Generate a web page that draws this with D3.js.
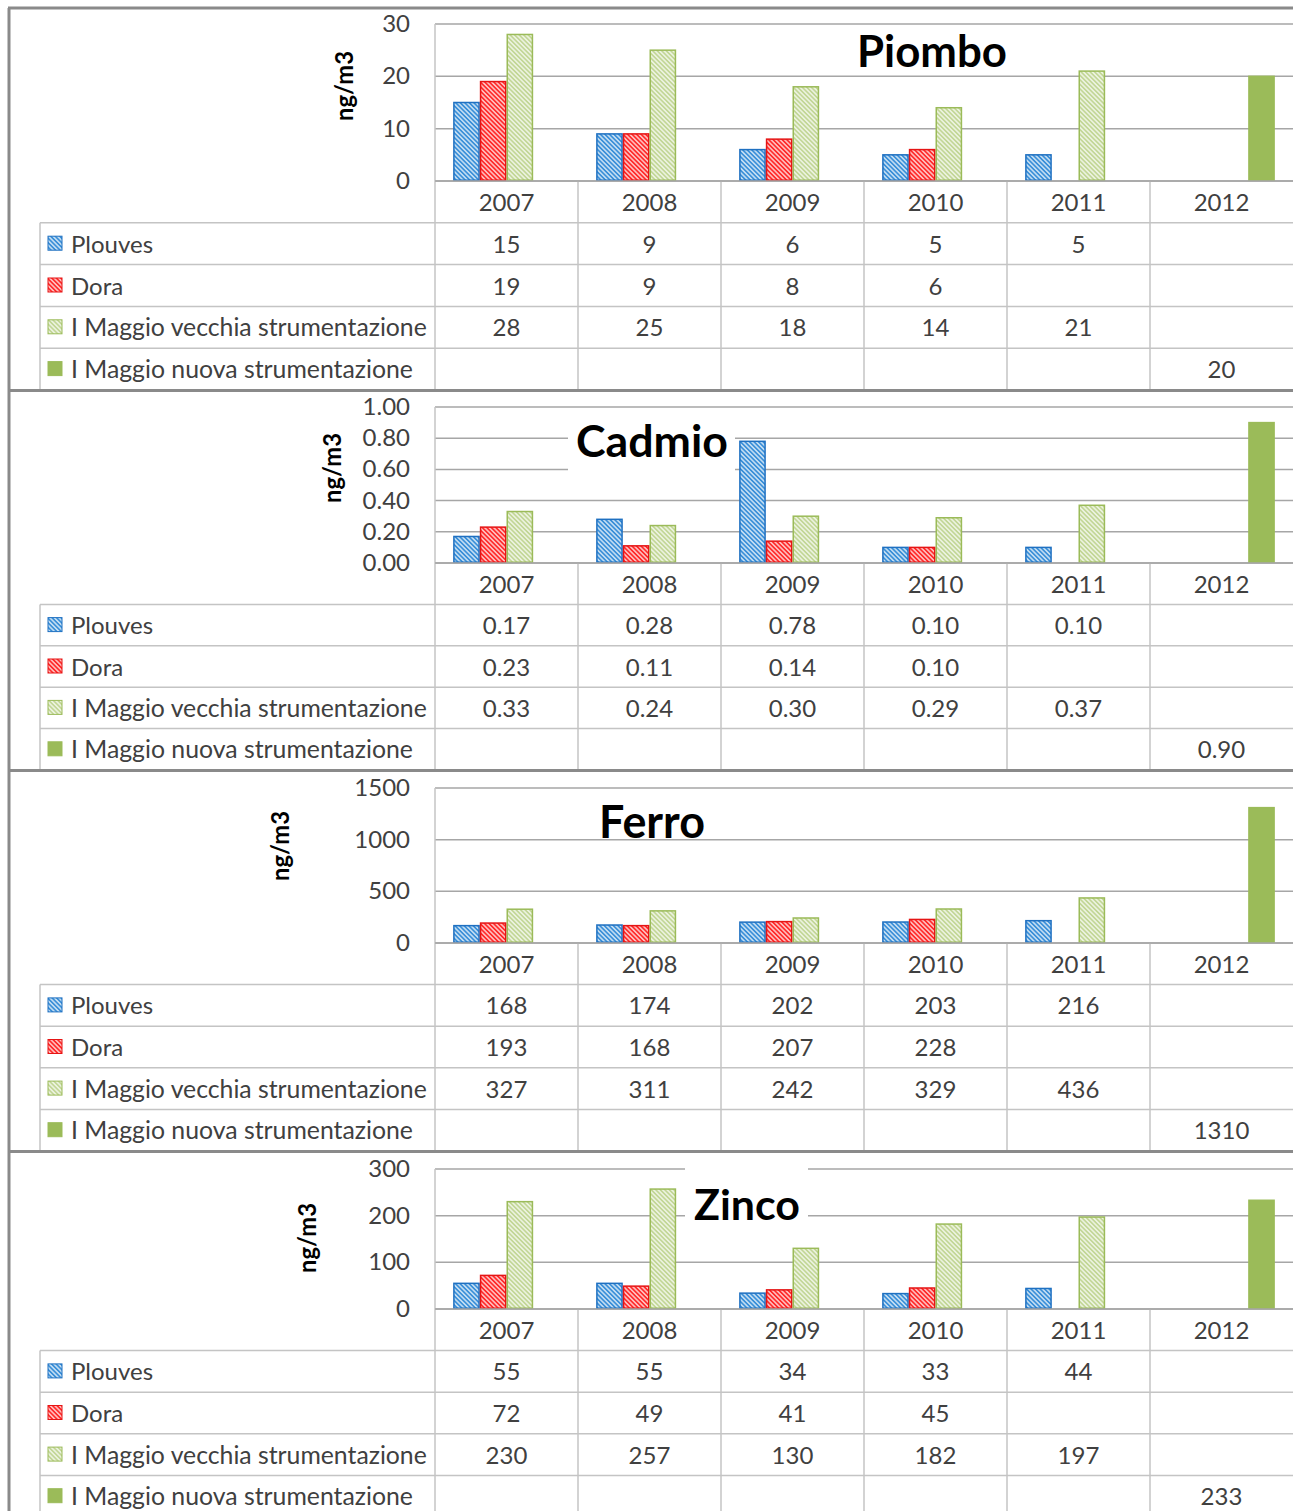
<!DOCTYPE html>
<html>
<head>
<meta charset="utf-8">
<script src="https://cdn.jsdelivr.net/npm/d3@7"></script>
<style>
  body { margin: 0; background: #fff; }
  svg { display: block; font-family: Lato, "Open Sans", sans-serif; }
</style>
</head>
<body>
<svg id="chart" width="1293" height="1511"></svg>
<script>
// categories and series
const years = ["2007", "2008", "2009", "2010", "2011", "2012"];
const seriesNames = ["Plouves", "Dora", "I Maggio vecchia strumentazione", "I Maggio nuova strumentazione"];

// Piombo (ng/m3)
const piomboPlouves = [15, 9, 6, 5, 5, null];
const piomboDora    = [19, 9, 8, 6, null, null];
const piomboVecchia = [28, 25, 18, 14, 21, null];
const piomboNuova   = [null, null, null, null, null, 20];
const piomboTicks   = [0, 10, 20, 30];

// Cadmio
const cadmioPlouves = [0.17, 0.28, 0.78, 0.10, 0.10, null];
const cadmioDora    = [0.23, 0.11, 0.14, 0.10, null, null];
const cadmioVecchia = [0.33, 0.24, 0.30, 0.29, 0.37, null];
const cadmioNuova   = [null, null, null, null, null, 0.90];
const cadmioTicks   = [0, 0.2, 0.4, 0.6, 0.8, 1.0];

// Ferro
const ferroPlouves = [168, 174, 202, 203, 216, null];
const ferroDora    = [193, 168, 207, 228, null, null];
const ferroVecchia = [327, 311, 242, 329, 436, null];
const ferroNuova   = [null, null, null, null, null, 1310];
const ferroTicks   = [0, 500, 1000, 1500];

// Zinco
const zincoPlouves = [55, 55, 34, 33, 44, null];
const zincoDora    = [72, 49, 41, 45, null, null];
const zincoVecchia = [230, 257, 130, 182, 197, null];
const zincoNuova   = [null, null, null, null, null, 233];
const zincoTicks   = [0, 100, 200, 300];

const fills   = ["#3a8fd8", "#ff2a2a", "#c2d696", "#9bbb59"];
const strokes = ["#1f70c1", "#e51515", "#9bbb59", "#9bbb59"];
const hatched = [true, true, true, false];

const panels = [
  { title: "Piombo", series: [piomboPlouves, piomboDora, piomboVecchia, piomboNuova], ticks: piomboTicks,
    fmt: d3.format(".0f"), tickFmt: d3.format(".0f"), top: 8, yTop: 24, y0: 181, bottom: 390,
    titleX: 932, titleY: 67, titleW: 150, box: null, labelX: 345, labelY: 86 },
  { title: "Cadmio", series: [cadmioPlouves, cadmioDora, cadmioVecchia, cadmioNuova], ticks: cadmioTicks,
    fmt: d3.format(".2f"), tickFmt: d3.format(".2f"), top: 391, yTop: 407, y0: 563, bottom: 770,
    titleX: 652, titleY: 457, titleW: 152, box: [568, 416, 167, 56], labelX: 333, labelY: 468 },
  { title: "Ferro", series: [ferroPlouves, ferroDora, ferroVecchia, ferroNuova], ticks: ferroTicks,
    fmt: d3.format(".0f"), tickFmt: d3.format(".0f"), top: 771, yTop: 788, y0: 943, bottom: 1151,
    titleX: 652, titleY: 838, titleW: 106, box: null, labelX: 281, labelY: 846 },
  { title: "Zinco", series: [zincoPlouves, zincoDora, zincoVecchia, zincoNuova], ticks: zincoTicks,
    fmt: d3.format(".0f"), tickFmt: d3.format(".0f"), top: 1152, yTop: 1169, y0: 1309, bottom: 1517,
    titleX: 747, titleY: 1220, titleW: 106, box: [685, 1163, 123, 60], labelX: 308, labelY: 1238 }
];

const W = 1293, plotLeft = 435, plotRight = 1293, tableLeft = 40;
const svg = d3.select("#chart");
const defs = svg.append("defs");

// hatch patterns: base colour with thin white "\" stripes
fills.forEach((c, i) => {
  if (!hatched[i]) return;
  const p = defs.append("pattern")
    .attr("id", "hatch" + i)
    .attr("patternUnits", "userSpaceOnUse")
    .attr("width", 3.2).attr("height", 3.2)
    .attr("patternTransform", "rotate(-45)");
  p.append("rect").attr("width", 3.2).attr("height", 3.2).attr("fill", c);
  p.append("line").attr("x1", 1.6).attr("y1", 0).attr("x2", 1.6).attr("y2", 3.2)
    .attr("stroke", "#fff").attr("stroke-width", 1.1);
});
const fillOf = i => hatched[i] ? "url(#hatch" + i + ")" : fills[i];

const x = d3.scaleBand().domain(years).range([plotLeft, plotRight]);
const xs = d3.scaleBand().domain(d3.range(4)).range([0, x.bandwidth()])
  .paddingInner(0).paddingOuter(0.68);

function fitWidth(sel, target) {
  const w = sel.node().getComputedTextLength();
  const fs = parseFloat(sel.attr("font-size"));
  sel.attr("font-size", fs * target / w);
}

panels.forEach(p => {
  const g = svg.append("g");
  const y = d3.scaleLinear().domain([p.ticks[0], p.ticks[p.ticks.length - 1]]).range([p.y0, p.yTop]);
  const rowH = (p.bottom - p.y0) / 5;

  // gridlines
  g.append("g").selectAll("line").data(p.ticks).join("line")
    .attr("x1", plotLeft).attr("x2", plotRight)
    .attr("y1", d => y(d)).attr("y2", d => y(d))
    .attr("stroke", "#a6a6a6").attr("stroke-width", 1.5);

  // tick labels
  g.append("g").selectAll("text").data(p.ticks).join("text")
    .attr("x", 410).attr("y", d => y(d) + 8)
    .attr("text-anchor", "end").attr("font-size", 24).attr("fill", "#404040")
    .text(d => p.tickFmt(d));

  // title (with white box where it cuts gridlines)
  if (p.box) {
    g.append("rect").attr("x", p.box[0]).attr("y", p.box[1])
      .attr("width", p.box[2]).attr("height", p.box[3]).attr("fill", "#fff");
  }
  const t = g.append("text").attr("x", p.titleX).attr("y", p.titleY)
    .attr("text-anchor", "middle").attr("font-weight", "bold")
    .attr("font-size", 42).attr("fill", "#000").text(p.title);
  fitWidth(t, p.titleW);

  // y axis label
  const yl = g.append("text")
    .attr("transform", `translate(${p.labelX + 8},${p.labelY}) rotate(-90)`)
    .attr("text-anchor", "middle").attr("font-weight", "bold")
    .attr("font-size", 22).attr("fill", "#000").text("ng/m3");
  fitWidth(yl, 70);

  // bars
  p.series.forEach((vals, si) => {
    g.append("g").selectAll("rect")
      .data(years.map((yr, k) => ({ yr, v: vals[k] })).filter(d => d.v != null))
      .join("rect")
      .attr("x", d => x(d.yr) + xs(si) + 0.75)
      .attr("width", xs.bandwidth() - 1.5)
      .attr("y", d => y(d.v))
      .attr("height", d => y(0) - y(d.v) - 0.75)
      .attr("fill", fillOf(si))
      .attr("stroke", strokes[si]).attr("stroke-width", 1.5);
  });

  // data table lines
  const tl = g.append("g").attr("stroke", "#c4c4c4").attr("stroke-width", 1.5);
  d3.range(1, 5).forEach(r => {
    tl.append("line").attr("x1", tableLeft).attr("x2", W)
      .attr("y1", p.y0 + r * rowH).attr("y2", p.y0 + r * rowH);
  });
  tl.append("line").attr("x1", tableLeft).attr("x2", tableLeft)
    .attr("y1", p.y0 + rowH).attr("y2", p.bottom);
  tl.append("line").attr("x1", plotLeft).attr("x2", plotLeft)
    .attr("y1", p.yTop).attr("y2", p.bottom);
  years.slice(1).forEach(yr => {
    tl.append("line").attr("x1", x(yr)).attr("x2", x(yr))
      .attr("y1", p.y0).attr("y2", p.bottom);
  });
  // baseline over table header
  g.append("line").attr("x1", plotLeft).attr("x2", plotRight)
    .attr("y1", p.y0).attr("y2", p.y0).attr("stroke", "#a6a6a6").attr("stroke-width", 1.5);

  // year header
  g.append("g").selectAll("text").data(years).join("text")
    .attr("x", d => x(d) + x.bandwidth() / 2).attr("y", p.y0 + rowH / 2 + 9)
    .attr("text-anchor", "middle").attr("font-size", 24).attr("fill", "#404040")
    .text(d => d);

  // table rows
  p.series.forEach((vals, si) => {
    const cy = p.y0 + (si + 1) * rowH + rowH / 2;
    g.append("rect").attr("x", 48).attr("y", cy - 7.5).attr("width", 14).attr("height", 14)
      .attr("fill", fillOf(si)).attr("stroke", strokes[si]).attr("stroke-width", 1);
    const lt = g.append("text").attr("x", 71).attr("y", cy + 9)
      .attr("font-size", 24).attr("fill", "#404040").text(seriesNames[si]);
    if (si === 2) fitWidth(lt, 356);
    if (si === 3) fitWidth(lt, 342);
    g.append("g").selectAll("text")
      .data(years.map((yr, k) => ({ yr, v: vals[k] })).filter(d => d.v != null))
      .join("text")
      .attr("x", d => x(d.yr) + x.bandwidth() / 2).attr("y", cy + 9)
      .attr("text-anchor", "middle").attr("font-size", 24).attr("fill", "#404040")
      .text(d => p.fmt(d.v));
  });
});

// panel borders
const border = svg.append("g").attr("stroke", "#8a8a8a").attr("stroke-width", 3).attr("fill", "none");
border.append("line").attr("x1", 8).attr("x2", W).attr("y1", 8).attr("y2", 8);
border.append("line").attr("x1", 9).attr("x2", 9).attr("y1", 8).attr("y2", 1511);
panels.slice(0, 3).forEach(p => {
  border.append("line").attr("x1", 8).attr("x2", W).attr("y1", p.bottom + 0.5).attr("y2", p.bottom + 0.5);
});
</script>
</body>
</html>
